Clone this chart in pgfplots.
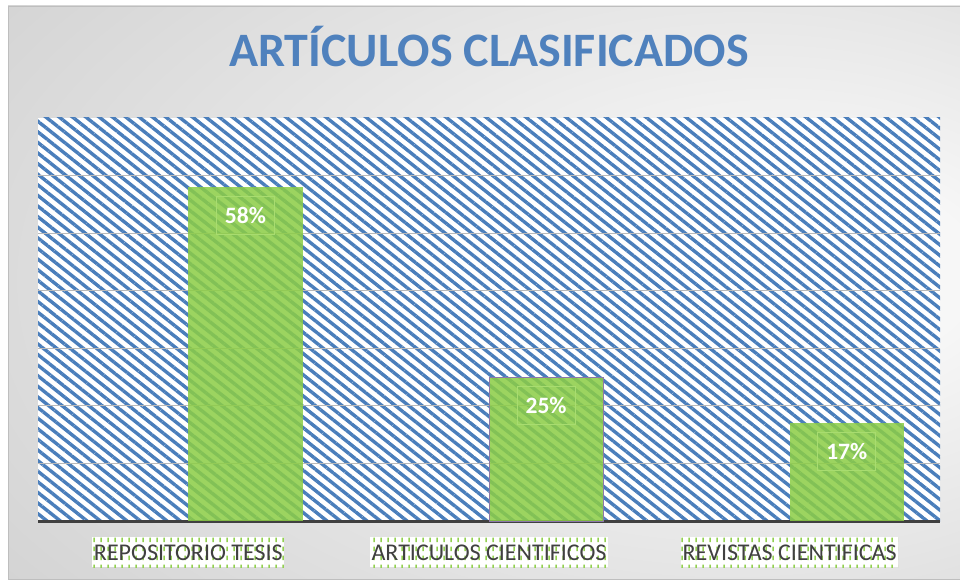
\documentclass[border=0pt]{standalone}
\usepackage{fontspec}
\setmainfont{Carlito}
\usepackage{pgfplots}
\pgfplotsset{compat=1.18}
\usetikzlibrary{patterns.meta}

\definecolor{titleblue}{RGB}{79,129,189}
\definecolor{stripeblue}{RGB}{74,126,187}
\definecolor{bargreen}{RGB}{140,205,70}
\definecolor{labelgreen}{RGB}{146,208,80}
\definecolor{gridgray}{RGB}{185,185,185}
\definecolor{axisgray}{RGB}{64,64,64}
\definecolor{textgray}{RGB}{64,64,64}
\definecolor{boxgreen}{RGB}{168,220,112}
\definecolor{bar2edge}{RGB}{140,120,170}
\definecolor{bgin}{RGB}{247,247,247}
\definecolor{bgmid}{RGB}{204,204,204}
\definecolor{bgout}{RGB}{188,188,188}
\definecolor{frame}{RGB}{190,190,190}

\pgfdeclareradialshading{chartbg}{\pgfpoint{20bp}{2bp}}{color(0bp)=(bgin); color(8bp)=(bgin); color(50bp)=(bgmid); color(72bp)=(bgout)}

% short vertical dashes behind the category names
\pgfdeclarepattern{name=dashcols, type=uncolored,
  bottom left={\pgfpoint{0pt}{0pt}}, top right={\pgfpoint{7pt}{9pt}},
  tile size={\pgfpoint{7pt}{9pt}},
  code={\pgfsetlinewidth{1.6pt}\pgfpathmoveto{\pgfpoint{3.5pt}{2pt}}\pgfpathlineto{\pgfpoint{3.5pt}{7pt}}\pgfusepath{stroke}}}

\begin{document}
\begin{tikzpicture}[x=1pt,y=1pt]
\path[use as bounding box] (0,0) rectangle (960,579);
\shadedraw[shading=chartbg, draw=frame, line width=0.8pt] (8,0) rectangle (960,573);

\begin{axis}[
    at={(38pt,58pt)}, anchor=south west,
    scale only axis, width=902pt, height=403pt,
    ybar, bar width=0.38,
    xmin=-0.5, xmax=2.5, ymin=0, ymax=0.7,
    axis x line*=bottom, axis y line*=left,
    x axis line style={axisgray, line width=3pt, -},
    y axis line style={draw=none},
    major tick length=0pt,
    tick style={draw=none},
    axis background/.style={fill=white,
        postaction={pattern={Lines[angle=-38.5,distance=8.3pt,line width=3.4pt]}, pattern color=stripeblue}},
    ytick={0.1,0.2,0.3,0.4,0.5,0.6},
    yticklabels={},
    ymajorgrids,
    grid style={gridgray, line width=0.8pt},
    xtick={0,1,2},
    xticklabels={REPOSITORIO TESIS, ARTICULOS CIENTIFICOS, REVISTAS CIENTIFICAS},
    xticklabel style={font=\fontsize{24}{24}\selectfont, text=textgray,
        fill=white, postaction={pattern=dashcols, pattern color=labelgreen},
        inner xsep=1.5pt, inner ysep=3pt, text height=20pt, text depth=4pt,
        anchor=north, yshift=-16pt},
    title={ARTÍCULOS CLASIFICADOS},
    title style={font=\bfseries\fontsize{48}{48}\selectfont, text=titleblue,
        at={(0.5,1)}, anchor=base, yshift=45pt},
    point meta=explicit symbolic,
    nodes near coords,
    nodes near coords style={font=\bfseries\fontsize{23.5}{23.5}\selectfont, text=white,
        draw=boxgreen, line width=0.8pt, inner sep=0pt, fill opacity=1, text opacity=1,
        minimum width=58pt, minimum height=38pt, anchor=north, yshift=-9pt},
]
\addplot[bar shift=0.19, fill=bargreen, fill opacity=0.86, draw=none]
    coordinates {(0,0.58) [58\%]};
\addplot[bar shift=0.19, fill=bargreen, fill opacity=0.86, draw=bar2edge, line width=1pt]
    coordinates {(1,0.25) [25\%]};
\addplot[bar shift=0.19, fill=bargreen, fill opacity=0.86, draw=none]
    coordinates {(2,0.17) [17\%]};
\end{axis}
\end{tikzpicture}
\end{document}
